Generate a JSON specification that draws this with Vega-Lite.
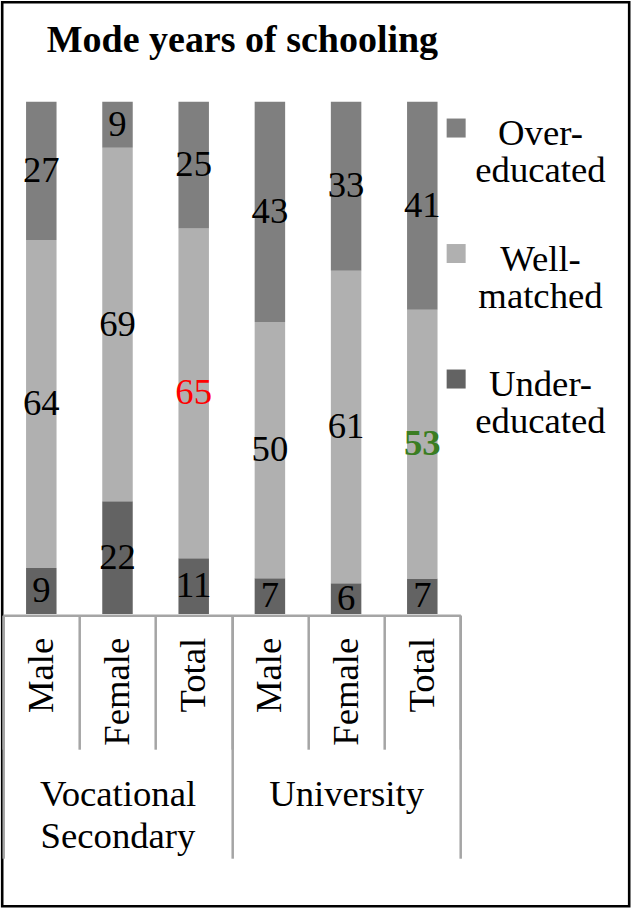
{
  "$schema": "https://vega.github.io/schema/vega-lite/v6.json",
  "autosize": {"type": "none"},
  "padding": {"left": 2.2, "top": 2.2, "right": 2.6, "bottom": 2.6},
  "width": 627,
  "height": 904,
  "background": "white",
  "title": {
    "text": "Mode years of schooling",
    "anchor": "start",
    "frame": "group",
    "baseline": "alphabetic",
    "offset": 0,
    "dx": 44.5,
    "dy": 88,
    "font": "Liberation Serif",
    "fontSize": 38,
    "fontWeight": "bold",
    "color": "black"
  },
  "config": {
    "view": {"stroke": "black", "strokeWidth": 2.6},
    "font": "Liberation Serif",
    "style": {"guide-label": {"lineHeight": 37}}
  },
  "data": {
    "values": [
      {"group": "Vocational Secondary", "sex": "Male", "level": "Under-educated", "pct": 9},
      {"group": "Vocational Secondary", "sex": "Male", "level": "Well-matched", "pct": 64},
      {"group": "Vocational Secondary", "sex": "Male", "level": "Over-educated", "pct": 27},
      {"group": "Vocational Secondary", "sex": "Female", "level": "Under-educated", "pct": 22},
      {"group": "Vocational Secondary", "sex": "Female", "level": "Well-matched", "pct": 69},
      {"group": "Vocational Secondary", "sex": "Female", "level": "Over-educated", "pct": 9},
      {"group": "Vocational Secondary", "sex": "Total", "level": "Under-educated", "pct": 11},
      {"group": "Vocational Secondary", "sex": "Total", "level": "Well-matched", "pct": 65},
      {"group": "Vocational Secondary", "sex": "Total", "level": "Over-educated", "pct": 25},
      {"group": "University", "sex": "Male", "level": "Under-educated", "pct": 7},
      {"group": "University", "sex": "Male", "level": "Well-matched", "pct": 50},
      {"group": "University", "sex": "Male", "level": "Over-educated", "pct": 43},
      {"group": "University", "sex": "Female", "level": "Under-educated", "pct": 6},
      {"group": "University", "sex": "Female", "level": "Well-matched", "pct": 61},
      {"group": "University", "sex": "Female", "level": "Over-educated", "pct": 33},
      {"group": "University", "sex": "Total", "level": "Under-educated", "pct": 7},
      {"group": "University", "sex": "Total", "level": "Well-matched", "pct": 53},
      {"group": "University", "sex": "Total", "level": "Over-educated", "pct": 41}
    ]
  },
  "transform": [
    {"calculate": "datum.group + '|' + datum.sex", "as": "bar"},
    {"calculate": "indexof(['Under-educated', 'Well-matched', 'Over-educated'], datum.level)", "as": "stackOrder"}
  ],
  "layer": [
    {
      "encoding": {
        "x": {
          "field": "bar",
          "type": "nominal",
          "sort": null,
          "scale": {"range": [1, 458.2], "paddingInner": 0, "paddingOuter": 0},
          "axis": {
            "title": null,
            "orient": "bottom",
            "offset": -291,
            "domainColor": "#a5a5a5",
            "domainWidth": 2.5,
            "tickColor": "#a5a5a5",
            "tickWidth": 2.5,
            "tickSize": 134,
            "tickBand": "extent",
            "labelExpr": "split(datum.label, '|')[1]",
            "labelAngle": -90,
            "labelAlign": "right",
            "labelBaseline": "middle",
            "labelPadding": -112,
            "labelFont": "Liberation Serif",
            "labelFontSize": 36.7,
            "labelColor": "black",
            "labelLimit": 0
          }
        },
        "y": {
          "field": "pct",
          "type": "quantitative",
          "stack": "normalize",
          "scale": {"range": [611.8, 99.5]},
          "axis": null
        },
        "order": {"field": "stackOrder", "type": "quantitative"}
      },
      "layer": [
        {
          "mark": {"type": "bar", "width": {"band": 0.4}},
          "encoding": {
            "color": {
              "field": "level",
              "type": "nominal",
              "scale": {
                "domain": ["Over-educated", "Well-matched", "Under-educated"],
                "range": ["#7f7f7f", "#b0b0b0", "#636363"]
              },
              "legend": {
                "title": null,
                "orient": "none",
                "legendX": 435.6,
                "legendY": 95.7,
                "padding": 0,
                "symbolType": "M-1,0.24H1V2.24H-1Z",
                "symbolSize": 361,
                "symbolStrokeWidth": 0,
                "rowPadding": 32.5,
                "labelFont": "Liberation Serif",
                "labelFontSize": 36.7,
                "labelColor": "black",
                "labelAlign": "center",
                "labelBaseline": "top",
                "labelOffset": 66,
                "labelLimit": 0,
                "labelExpr": "[split(datum.label, '-')[0] + '-', split(datum.label, '-')[1]]"
              }
            }
          }
        },
        {
          "mark": {"type": "text", "font": "Liberation Serif", "fontSize": 36.7, "baseline": "middle"},
          "encoding": {
            "y": {"field": "pct", "type": "quantitative", "stack": "normalize", "bandPosition": 0.5},
            "text": {"field": "pct", "type": "quantitative"},
            "color": {
              "condition": {"test": "datum.bar === 'Vocational Secondary|Total' && datum.level === 'Well-matched'", "value": "#ff0000"},
              "value": "black"
            },
            "opacity": {
              "condition": {"test": "datum.bar === 'University|Total' && datum.level === 'Well-matched'", "value": 0},
              "value": 1
            }
          }
        },
        {
          "mark": {"type": "text", "font": "Liberation Serif", "fontSize": 36.7, "fontWeight": "bold", "baseline": "middle", "color": "#3a7d22"},
          "encoding": {
            "y": {"field": "pct", "type": "quantitative", "stack": "normalize", "bandPosition": 0.5},
            "text": {"field": "pct", "type": "quantitative"},
            "opacity": {
              "condition": {"test": "datum.bar === 'University|Total' && datum.level === 'Well-matched'", "value": 1},
              "value": 0
            }
          }
        }
      ]
    },
    {
      "mark": {"type": "rule", "strokeOpacity": 0},
      "encoding": {
        "x": {
          "field": "group",
          "type": "nominal",
          "sort": null,
          "scale": {"range": [1, 458.2], "paddingInner": 0, "paddingOuter": 0},
          "axis": {
            "title": null,
            "orient": "bottom",
            "offset": -291,
            "domain": false,
            "tickColor": "#a5a5a5",
            "tickWidth": 2.5,
            "tickSize": 243,
            "tickBand": "extent",
            "labelExpr": "split(datum.label, ' ')",
            "labelAngle": 0,
            "labelAlign": "center",
            "labelBaseline": "top",
            "labelPadding": -82,
            "labelLineHeight": 42,
            "labelFont": "Liberation Serif",
            "labelFontSize": 36.7,
            "labelColor": "black",
            "labelLimit": 0
          }
        }
      }
    }
  ],
  "resolve": {"scale": {"x": "independent"}, "axis": {"x": "independent"}}
}
